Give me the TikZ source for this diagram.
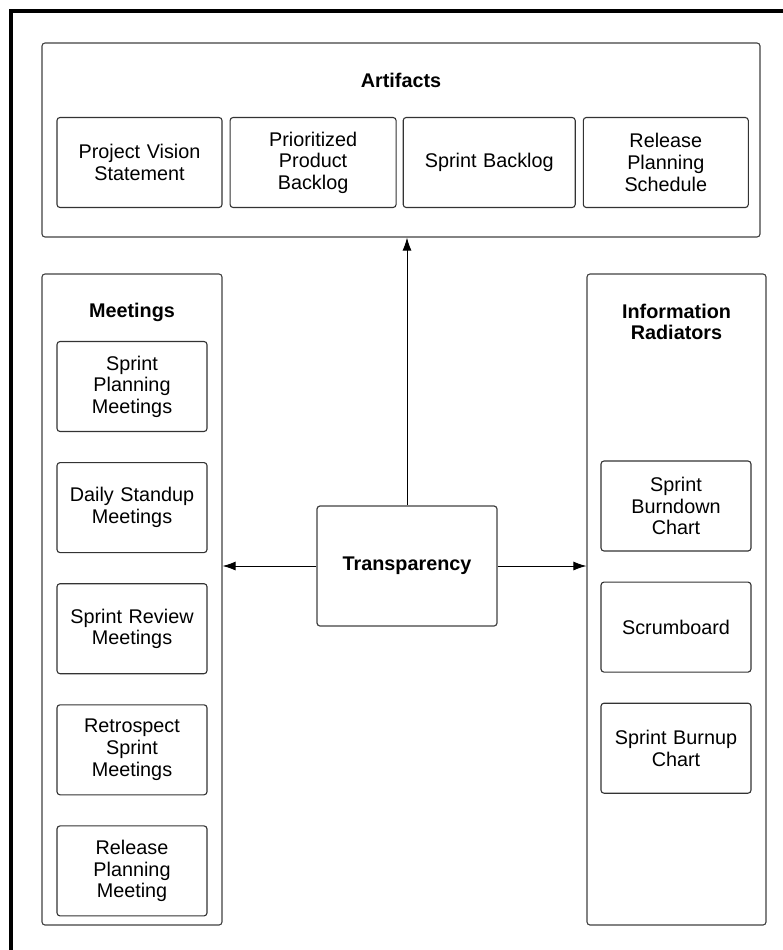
\documentclass[tikz,border=0pt]{standalone}
\usepackage{fontspec}
\setmainfont{Liberation Sans}
\usetikzlibrary{positioning,arrows.meta}

\tikzset{
	group/.style={draw=black!75, line width=1.1pt, rounded corners=3pt},
	item/.style={draw=black!80, line width=1.1pt, rounded corners=3pt, align=center,
		minimum width=150pt, minimum height=90pt, text width=145pt,
		font=\fontsize{19.8}{21.6}\selectfont, inner sep=0pt},
	title/.style={align=center, font=\fontsize{19.8}{21.6}\selectfont\bfseries},
	link/.style={line width=1pt, -{Latex[length=13pt,width=9pt]}}
}

\begin{document}
\begin{tikzpicture}[x=1pt,y=-1pt]
\useasboundingbox (0,0) rectangle (783,950);
\draw[line width=4pt] (11,950) -- (11,11) -- (783,11);

% artifacts
\node[group, minimum width=718pt, minimum height=194pt] (art) at (401,140) {};
\node[title] at (401,80) {Artifacts};
\node[item, minimum width=165pt] (vision) at (139.5,162.5) {Project Vision\\Statement};
\node[item, minimum width=166pt, right=7pt of vision] (ppb) {Prioritized\\Product\\Backlog};
\node[item, minimum width=172pt, right=6pt of ppb] (sb) {Sprint Backlog};
\node[item, minimum width=165pt, right=7pt of sb] (rps) {Release\\Planning\\Schedule};

% meetings
\node[group, minimum width=180pt, minimum height=651pt] (meet) at (132,599.5) {};
\node[title] at (132,312) {Meetings};
\node[item] (spm) at (132,386.5) {Sprint\\Planning\\Meetings};
\node[item, below=30pt of spm] (dsm) {Daily Standup\\Meetings};
\node[item, below=30pt of dsm] (srm) {Sprint Review\\Meetings};
\node[item, below=30pt of srm] (rsm) {Retrospect\\Sprint\\Meetings};
\node[item, below=30pt of rsm] (rpm) {Release\\Planning\\Meeting};

% information radiators
\node[group, minimum width=179pt, minimum height=651pt] (info) at (676.5,599.5) {};
\node[title] at (676.5,322) {Information\\Radiators};
\node[item] (sbc) at (676,506) {Sprint\\Burndown\\Chart};
\node[item, below=30pt of sbc] (scrum) {Scrumboard};
\node[item, below=30pt of scrum] (sbu) {Sprint Burnup\\Chart};

% center
\node[group, line width=1.2pt, minimum width=180pt, minimum height=120pt,
	font=\fontsize{19.8}{21.6}\selectfont\bfseries] (tr) at (407,566) {Transparency};

\draw[link] (tr.north) -- (tr.north |- art.south);
\draw[link] (tr.west) -- (tr.west -| meet.east);
\draw[link] (tr.east) -- (tr.east -| info.west);
\end{tikzpicture}
\end{document}
